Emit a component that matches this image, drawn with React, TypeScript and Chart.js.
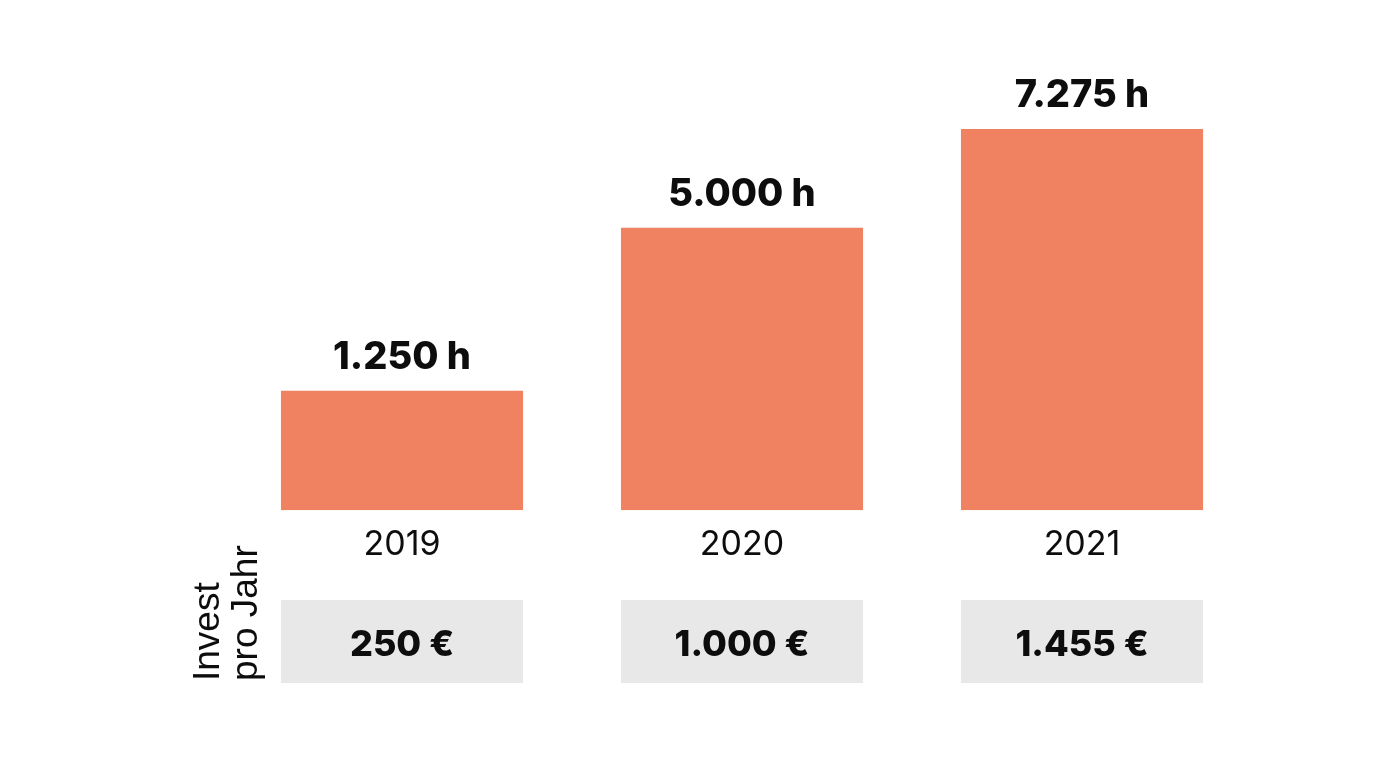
import React, { useEffect, useRef } from "react";
import { Chart, registerables } from "chart.js";

Chart.register(...registerables);

const years = ["2019", "2020", "2021"];
const hours = [1250, 5000, 7275];
const investEuro = [250, 1000, 1455];
const sideLabel = ["Invest", "pro Jahr"];

const fmt = (v: number) => v.toString().replace(/\B(?=(\d{3})+(?!\d))/g, ".");

const BAR_COLOR = "#F08161";
const BOX_COLOR = "#E8E8E8";
const TEXT_COLOR = "#0D0D0D";

export default function App() {
  const ref = useRef<HTMLCanvasElement | null>(null);

  useEffect(() => {
    if (!ref.current) return;
    const overlay = {
      id: "overlay",
      afterDatasetsDraw(chart: any) {
        const ctx = chart.ctx as CanvasRenderingContext2D;
        const meta = chart.getDatasetMeta(0);
        ctx.save();
        meta.data.forEach((bar: any, i: number) => {
          const v = hours[i];
          ctx.fillStyle = TEXT_COLOR;
          ctx.font = "800 38px Inter";
          ctx.textAlign = "center";
          ctx.textBaseline = "alphabetic";
          ctx.fillText(`${fmt(v)} h`, bar.x, bar.y - 22);
          // invest box
          const w = bar.width;
          ctx.fillStyle = BOX_COLOR;
          ctx.fillRect(bar.x - w / 2, 600, w, 83);
          ctx.fillStyle = TEXT_COLOR;
          ctx.font = "800 36px Inter";
          ctx.fillText(`${fmt(investEuro[i])} €`, bar.x, 656);
        });
        // rotated side label
        ctx.translate(219, 681);
        ctx.rotate(-Math.PI / 2);
        ctx.font = "400 37px 'Liberation Sans'";
        ctx.textAlign = "left";
        ctx.textBaseline = "alphabetic";
        ctx.fillStyle = TEXT_COLOR;
        sideLabel.forEach((t, k) => ctx.fillText(t, 0, k * 38));
        ctx.restore();
      },
    };
    const chart = new Chart(ref.current, {
      type: "bar",
      data: {
        labels: years,
        datasets: [
          {
            data: hours,
            backgroundColor: BAR_COLOR,
            borderWidth: 0,
            barPercentage: 0.712,
            categoryPercentage: 1.0,
            base: -1500,
          } as any,
        ],
      },
      options: {
        responsive: false,
        animation: false,
        layout: { padding: { left: 232, right: 148, top: 54, bottom: 184 } },
        plugins: { legend: { display: false }, tooltip: { enabled: false } },
        scales: {
          x: {
            grid: { display: false, drawTicks: false },
            border: { display: false },
            ticks: {
              color: TEXT_COLOR,
              font: { family: "Inter", size: 34, weight: "400" as any },
              padding: 14,
            },
          },
          y: { display: false, min: -1500, max: 9000 },
        },
      },
      plugins: [overlay],
    });
    return () => chart.destroy();
  }, []);

  return (
    <div style={{ position: "fixed", left: 0, top: 0, width: 1400, height: 763, background: "#fff" }}>
      <canvas ref={ref} width={1400} height={763} />
    </div>
  );
}
